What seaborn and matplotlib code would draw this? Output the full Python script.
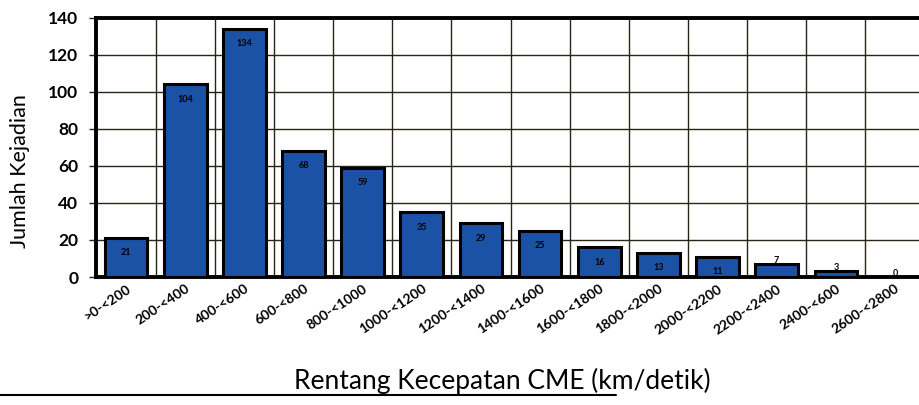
import matplotlib
matplotlib.use("Agg")
import matplotlib.pyplot as plt
from matplotlib.lines import Line2D
import seaborn as sns
import pandas as pd

# Speed ranges of CME events and the number of events in each range
rentang = [">0-<200", "200-<400", "400-<600", "600-<800", "800-<1000",
           "1000-<1200", "1200-<1400", "1400-<1600", "1600-<1800",
           "1800-<2000", "2000-<2200", "2200-<2400", "2400-<600",
           "2600-<2800"]
jumlah = [21, 104, 134, 68, 59, 35, 29, 25, 16, 13, 11, 7, 3, 0]
y_ticks = [0, 20, 40, 60, 80, 100, 120, 140]

df = pd.DataFrame({"rentang": rentang, "jumlah": jumlah})

sns.set_theme(style="white", rc={"text.color": "black",
                                 "axes.labelcolor": "black",
                                 "xtick.color": "black",
                                 "ytick.color": "black"})
plt.rcParams["font.family"] = ["Lato", "DejaVu Sans"]

fig = plt.figure(figsize=(9.19, 4.05), dpi=100)
ax = fig.add_axes([0.105, 0.316, 0.901, 0.64])

sns.barplot(data=df, x="rentang", y="jumlah", color="#1c52a6", saturation=1,
            width=0.72, edgecolor="black", linewidth=2.2, ax=ax, zorder=3)

ax.set_ylim(0, 140)
ax.set_xlim(-0.5, len(rentang) - 0.5)
ax.set_yticks(y_ticks)
ax.set_yticklabels([str(v) for v in y_ticks], fontsize=12.5, fontweight="bold")

# horizontal grid at each tick, vertical lines between categories
for v in y_ticks[1:]:
    ax.axhline(v, color="#2a2418", lw=1.0, zorder=1)
for i in range(len(rentang) - 1):
    ax.axvline(i + 0.5, color="#2a2418", lw=1.0, zorder=1)

ax.tick_params(axis="y", length=5, width=1.0, color="#2a2418", pad=8, left=True)
ax.tick_params(axis="x", length=0, pad=4)
ax.set_xticks(range(len(rentang)))
ax.set_xticklabels(rentang, rotation=34, ha="right", rotation_mode="anchor",
                   fontsize=10, fontweight="bold")

for side in ["left", "bottom", "top"]:
    ax.spines[side].set_linewidth(2.8)
    ax.spines[side].set_color("black")
ax.spines["right"].set_visible(False)

# value labels just inside the top of each bar
for i, v in enumerate(jumlah):
    y = v - 8 if v >= 10 else v + 2
    ax.text(i, y, str(v), ha="center", va="center", fontsize=6.5,
            fontweight="bold", color="black", zorder=4)

ax.set_ylabel("Jumlah Kejadian", fontsize=15.5)
ax.yaxis.set_label_coords(-0.080, 0.41)
ax.set_xlabel("Rentang Kecepatan CME (km/detik)", fontsize=19)
ax.xaxis.set_label_coords(0.49, -0.35)

# rule under the figure
fig.add_artist(Line2D([0.0, 0.67], [0.025, 0.025], color="black", lw=1.5,
                      transform=fig.transFigure))

fig.savefig("out.png", dpi=100, facecolor="white")
